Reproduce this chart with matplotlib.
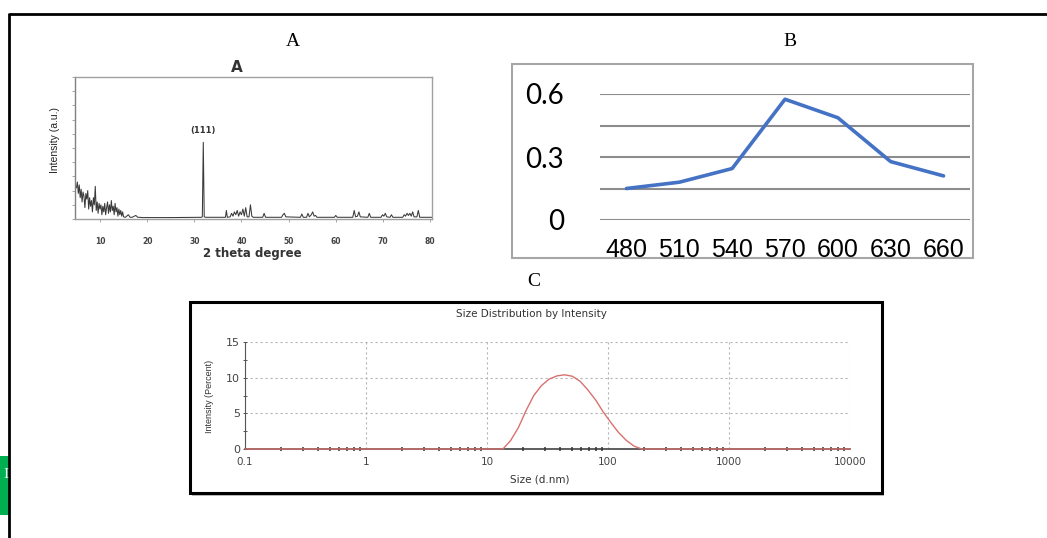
import matplotlib
matplotlib.use("Agg")
import matplotlib.pyplot as plt
from matplotlib.patches import Rectangle
from matplotlib.lines import Line2D
from matplotlib.ticker import MultipleLocator, LogLocator, NullFormatter, FixedLocator

# ---------------- data ----------------
# Panel A: XRD pattern (2 theta, relative intensity %)
xrd_2theta = [5.0, 5.2, 5.4, 5.6, 5.8, 6.0, 6.2, 6.4, 6.6, 6.8, 7.0, 7.2, 7.4, 7.6, 7.8,
              8.0, 8.2, 8.4, 8.6, 8.8, 9.0, 9.2, 9.4, 9.6, 9.8, 10.0, 10.2, 10.4, 10.6,
              10.8, 11.0, 11.2, 11.4, 11.6, 11.8, 12.0, 12.2, 12.4, 12.6, 12.8, 13.0,
              13.2, 13.4, 13.6, 13.8, 14.0, 14.2, 14.4, 14.6, 14.8, 15.0, 15.4, 16.0,
              16.4, 16.8, 17.6, 18.0, 18.4, 19.0, 25.0, 31.5, 31.7, 31.9, 32.1, 32.4,
              36.0, 36.6, 36.8, 37.0, 37.6, 37.9, 38.2, 38.5, 38.8, 39.1, 39.4, 39.7,
              40.0, 40.3, 40.6, 40.9, 41.2, 41.6, 41.9, 42.2, 42.5, 44.5, 44.8, 45.1,
              48.5, 48.8, 49.1, 49.4, 52.5, 52.8, 53.1, 53.8, 54.1, 54.4, 54.8, 55.1,
              55.4, 55.7, 56.0, 59.7, 60.0, 60.3, 63.6, 63.9, 64.2, 64.6, 64.9, 65.2,
              66.8, 67.1, 67.4, 69.6, 69.9, 70.2, 70.5, 70.8, 71.5, 71.8, 72.1, 74.2,
              74.5, 74.8, 75.1, 75.4, 75.7, 76.0, 76.3, 76.6, 77.2, 77.5, 77.8, 80.4]
xrd_intensity = [22, 26, 18, 24, 15, 21, 12, 19, 16, 8, 18, 14, 20, 7, 15,
                 9, 13, 5, 15, 10, 23, 6, 12, 4, 11, 7, 10, 3, 9,
                 5, 11, 3, 8, 12, 4, 10, 5, 13, 6, 9, 3,
                 11, 5, 8, 2, 7, 3, 6, 2, 5, 1.5, 1.2, 3,
                 1.2, 1.2, 2.5, 1.2, 1.2, 1.0, 1.0, 1.2, 1.5, 54, 1.5, 1.2,
                 1.2, 1.2, 6, 1.2, 1.5, 4, 2, 5, 3, 6, 2, 5,
                 3, 7, 2, 8, 1.5, 1.5, 10, 2, 1.2, 1.2, 4, 1.2,
                 1.2, 3, 4, 1.5, 1.2, 3.5, 1.2, 1.2, 4, 1.5, 3, 5,
                 2, 2.5, 1.2, 1.2, 2.5, 1.2, 1.2, 6, 1.5, 2, 5, 1.5,
                 1.2, 4, 1.2, 1.2, 3, 2, 4, 1.5, 1.2, 3, 1.2, 1.2,
                 3, 2, 4, 2.5, 4, 2, 5, 1.5, 1.5, 6, 1.2, 1.2]
xrd_peak_label = "(111)"
xrd_peak_pos = 31.9
xrd_peak_height = 54
xrd_xticks = [10, 20, 30, 40, 50, 60, 70, 80]

# Panel B: absorbance vs wavelength
wavelengths = ["480", "510", "540", "570", "600", "630", "660"]
absorbance = [0.15, 0.18, 0.245, 0.575, 0.487, 0.278, 0.21]
b_yticks = [0, 0.3, 0.6]
b_ytick_labels = ["0", "0.3", "0.6"]

# Panel C: DLS size distribution by intensity
dls_size = [0.1, 13.54, 15.69, 18.17, 21.04, 24.36, 28.21, 32.67, 37.84, 43.82, 50.75,
            58.77, 68.06, 78.82, 91.28, 105.7, 122.4, 141.8, 164.2, 190.1, 10000]
dls_intensity = [0, 0, 1.2, 3.0, 5.4, 7.5, 8.9, 9.8, 10.25, 10.4, 10.2,
                 9.5, 8.3, 6.9, 5.2, 3.7, 2.3, 1.2, 0.4, 0, 0]
c_xticks = [0.1, 1, 10, 100, 1000, 10000]
c_xtick_labels = ["0.1", "1", "10", "100", "1000", "10000"]
c_yticks = [0, 5, 10, 15]

# ---------------- figure ----------------
W, H = 1047, 538
fig = plt.figure(figsize=(W / 100, H / 100), dpi=100)
fig.patch.set_facecolor("white")

def ax_px(l, t, r, b, **kw):
    return fig.add_axes([l / W, 1 - b / H, (r - l) / W, (b - t) / H], **kw)

def lab_coords(l, t, r, b, x, y):
    return ((x - l) / (r - l), (b - y) / (b - t))

SANS = ["Liberation Sans", "DejaVu Sans"]
SERIF = ["Liberation Serif", "DejaVu Serif"]

# overlay in pixel coordinates for decorations
ov = fig.add_axes([0, 0, 1, 1], zorder=0)
ov.set_xlim(0, W)
ov.set_ylim(H, 0)
ov.axis("off")

# green strip at left edge
ov.add_patch(Rectangle((0, 456), 9, 59, facecolor="#00b050", edgecolor="none"))
ov.text(6, 474, "I", color="white", fontsize=11, family=SERIF, ha="center", va="center")
# outer border
ov.add_line(Line2D([9, 1047], [14, 14], color="black", lw=2.0, solid_capstyle="butt"))
ov.add_line(Line2D([9, 9], [13.2, 538], color="black", lw=2.0, solid_capstyle="butt"))

# panel letters
ov.text(293, 42, "A", fontsize=14, family=SERIF, ha="center", va="center")
ov.text(790, 42, "B", fontsize=14, family=SERIF, ha="center", va="center")
ov.text(534, 282, "C", fontsize=14, family=SERIF, ha="center", va="center")
ov.text(237, 68, "A", fontsize=11, fontweight="bold", color="#333333", ha="center", va="center")

# panel B border
ov.add_patch(Rectangle((512, 64), 461, 194, facecolor="none", edgecolor="#a6a6a6", lw=1.5))
# panel C box with shadow
ov.add_patch(Rectangle((191.5, 304.5), 692, 191, facecolor="#bdbdbd", edgecolor="none"))
ov.add_patch(Rectangle((189.5, 302), 692, 191, facecolor="white", edgecolor="black", lw=2.2))

# ---------------- Panel A ----------------
Al, At, Ar, Ab = 75, 77, 432, 219
axA = ax_px(Al, At, Ar, Ab, zorder=1)
axA.set_facecolor("white")
axA.plot(xrd_2theta, xrd_intensity, color="#3a3a3a", lw=0.75)
axA.set_xlim(4.7, 80.4)
axA.set_ylim(0, 100)
for s in axA.spines.values():
    s.set_color("#a0a0a0")
    s.set_linewidth(1.0)
axA.spines["left"].set_color("#808080")
axA.set_xticks(xrd_xticks)
axA.set_xticklabels([str(v) for v in xrd_xticks])
axA.tick_params(axis="x", length=2, width=0.6, color="#999999", labelsize=5.5,
                labelcolor="#444444", pad=11)
for t in axA.get_xticklabels():
    t.set_fontweight("bold")
axA.yaxis.set_major_locator(MultipleLocator(10))
axA.yaxis.set_major_formatter(NullFormatter())
axA.tick_params(axis="y", length=2, width=0.6, color="#999999")
axA.text(xrd_peak_pos, xrd_peak_height + 8, xrd_peak_label, fontsize=6, fontweight="bold",
         color="#333333", ha="center", va="center")
axA.set_xlabel("2 theta degree", fontsize=8.5, fontweight="bold", color="#333333", va="center")
axA.xaxis.set_label_coords(*lab_coords(Al, At, Ar, Ab, 252, 254))
axA.set_ylabel("Intensity (a.u.)", fontsize=7.5, family=SANS, color="#222222", va="center")
axA.yaxis.set_label_coords(*lab_coords(Al, At, Ar, Ab, 55, 140))

# ---------------- Panel B ----------------
Bl, Bt, Br, Bb = 600, 94, 970, 220
axB = ax_px(Bl, Bt, Br, Bb, zorder=1)
axB.set_facecolor("none")
xB = list(range(len(wavelengths)))
axB.plot(xB, absorbance, color="#4472c4", lw=2.6, solid_capstyle="round", zorder=3, clip_on=False)
axB.set_xlim(-0.5, len(wavelengths) - 0.5)
axB.set_ylim(0, 0.6)
for s in axB.spines.values():
    s.set_visible(False)
axB.set_yticks(b_yticks)
axB.set_yticklabels(b_ytick_labels)
axB.yaxis.set_minor_locator(FixedLocator([0.15, 0.45]))
axB.grid(True, axis="y", which="both", color="#8c8c8c", lw=1.5)
axB.set_axisbelow(True)
axB.set_xticks(xB)
axB.set_xticklabels(wavelengths)
axB.tick_params(axis="y", which="both", length=0, labelsize=20, pad=26)
axB.tick_params(axis="x", length=0, labelsize=18, pad=13)
for t in axB.get_xticklabels():
    t.set_family(SANS)
for t in axB.get_yticklabels():
    t.set_family(["Lato", "DejaVu Sans"])

# ---------------- Panel C ----------------
Cl, Ct, Cr, Cb = 245, 342, 850, 449
axC = ax_px(Cl, Ct, Cr, Cb, zorder=1)
axC.set_facecolor("none")
axC.plot(dls_size, dls_intensity, color="#d9716f", lw=1.0, zorder=4, clip_on=False)
axC.set_xscale("log")
axC.set_xlim(0.1, 10000)
axC.set_ylim(0, 15)
axC.spines["top"].set_visible(False)
axC.spines["right"].set_visible(False)
axC.spines["left"].set_color("#555555")
axC.spines["bottom"].set_color("#333333")
axC.spines["bottom"].set_linewidth(1.1)
axC.set_xticks(c_xticks)
axC.set_xticklabels(c_xtick_labels)
axC.xaxis.set_minor_locator(LogLocator(base=10, subs=range(2, 10)))
axC.xaxis.set_minor_formatter(NullFormatter())
axC.set_yticks(c_yticks)
axC.yaxis.set_minor_locator(MultipleLocator(2.5))
axC.grid(True, which="major", color="#b5b5b5", lw=0.8, ls=(0, (2, 2.5)))
axC.tick_params(axis="x", which="major", length=0, labelsize=7.5, labelcolor="#444444", pad=6)
axC.tick_params(axis="x", which="minor", length=2.5, width=1.2, color="#444444", direction="inout")
axC.tick_params(axis="y", which="both", length=3, width=0.7, color="#555555", direction="inout",
                labelsize=8, labelcolor="#444444", pad=2)
tx, ty = lab_coords(Cl, Ct, Cr, Cb, 531, 314)
axC.text(tx, ty, "Size Distribution by Intensity", transform=axC.transAxes, fontsize=7.5,
         color="#333333", ha="center", va="center")
axC.set_xlabel("Size (d.nm)", fontsize=7.5, color="#333333", va="center")
axC.xaxis.set_label_coords(*lab_coords(Cl, Ct, Cr, Cb, 540, 480))
axC.set_ylabel("Intensity (Percent)", fontsize=6.5, family=SANS, color="#333333", va="center")
axC.yaxis.set_label_coords(*lab_coords(Cl, Ct, Cr, Cb, 210, 396))

fig.savefig("out.png", dpi=100, facecolor="white")
